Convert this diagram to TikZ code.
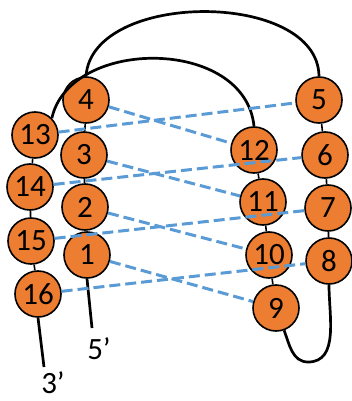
\documentclass[tikz,border=0pt]{standalone}
\usepackage{fontspec}
\setmainfont{Carlito}
\definecolor{baseorange}{HTML}{ED7D31}
\definecolor{pairblue}{HTML}{5B9BD5}
\begin{document}
\begin{tikzpicture}[x=1pt,y=-1pt,
  base/.style={circle,draw=black,line width=1.6pt,fill=baseorange,
    minimum size=46pt,inner sep=0pt,font=\fontsize{31}{31}\selectfont},
  backbone/.style={draw=black,line width=2.7pt},
  link/.style={draw=black,line width=1.6pt},
  pair/.style={draw=pairblue,line width=3pt,dash pattern=on 11pt off 5pt},
  endlabel/.style={font=\fontsize{31}{31}\selectfont,inner sep=0pt}]
\useasboundingbox (0,0) rectangle (351,401);

% left strands
\node[base] (n4)  at (86,100) {4};
\node[base] (n3)  at (84,155) {3};
\node[base] (n2)  at (85,207) {2};
\node[base] (n1)  at (87,255) {1};
\node[base] (n13) at (35,135) {13};
\node[base] (n14) at (30,187) {14};
\node[base] (n15) at (31,241) {15};
\node[base] (n16) at (38,294) {16};
% right strands
\node[base] (n12) at (254,150) {12};
\node[base] (n11) at (263,202) {11};
\node[base] (n10) at (269,255) {10};
\node[base] (n9)  at (276,308) {9};
\node[base] (n5)  at (319,100) {5};
\node[base] (n6)  at (325,155) {6};
\node[base] (n7)  at (328,208) {7};
\node[base] (n8)  at (329,261) {8};

% backbone links between neighbouring bases
\draw[link] (n4) -- (n3);
\draw[link] (n3) -- (n2);
\draw[link] (n2) -- (n1);
\draw[link] (n13) -- (n14);
\draw[link] (n14) -- (n15);
\draw[link] (n15) -- (n16);
\draw[link] (n12) -- (n11);
\draw[link] (n11) -- (n10);
\draw[link] (n10) -- (n9);
\draw[link] (n5) -- (n6);
\draw[link] (n6) -- (n7);
\draw[link] (n7) -- (n8);

% loops
\draw[backbone] (n4.north) .. controls (92,-10) and (318,-10) .. (n5.north);
\draw[backbone] (n13.north east) .. controls (70,37) and (245,37) .. (n12.north);
\draw[backbone] (n9.-70) to[out=-70,in=180] (308,362) to[out=0,in=-90] (n8.south);

% strand ends
\coordinate (e5) at (92,328);
\coordinate (e3) at (44,367);
\draw[backbone] (n1.south) -- (e5);
\draw[backbone] (n16.south) -- (e3);
\node[endlabel] (l5) at (99,349) {5’};
\node[endlabel] (l3) at (53,383) {3’};

% base pairs
\draw[pair] (n4) -- (n12);
\draw[pair] (n13) -- (n5);
\draw[pair] (n3) -- (n11);
\draw[pair] (n14) -- (n6);
\draw[pair] (n2) -- (n10);
\draw[pair] (n15) -- (n7);
\draw[pair] (n1) -- (n9);
\draw[pair] (n16) -- (n8);
\end{tikzpicture}
\end{document}
